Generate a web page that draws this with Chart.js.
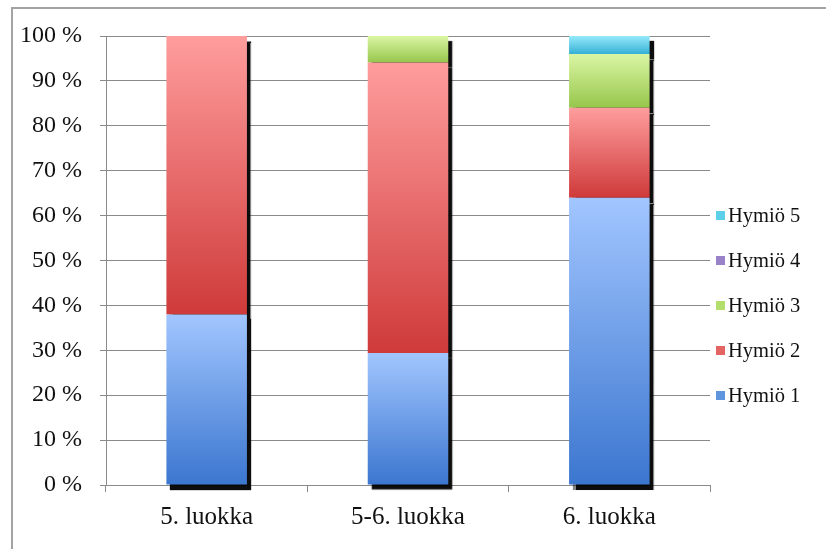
<!DOCTYPE html>
<html>
<head>
<meta charset="utf-8">
<script src="https://cdn.jsdelivr.net/npm/chart.js@4/dist/chart.umd.min.js"></script>
<style>
  html, body { margin: 0; padding: 0; background: #fff; }
  #wrap { position: relative; width: 826px; height: 549px; overflow: hidden; }
  #frame { position: absolute; left: 11px; top: 7px; width: 900px; height: 700px;
           border-left: 2px solid #a3a3a3; border-top: 2px solid #a3a3a3; }
  canvas { position: absolute; left: 0; top: 0; }
  #legend { position: absolute; left: 716px; top: 193px; font: 20.5px "Liberation Serif", serif; color: #111; }
  #legend .item { height: 45px; display: flex; align-items: center; white-space: nowrap; }
  #legend .box { width: 9px; height: 9px; margin-right: 3px; }
</style>
</head>
<body>
<div id="wrap">
  <div id="frame"></div>
  <canvas id="chart" width="826" height="549"></canvas>
  <div id="legend"></div>
</div>
<script>
// luokat ja osuudet (%)
const categories = ['5. luokka', '5-6. luokka', '6. luokka'];
const seriesNames = ['Hymiö 1', 'Hymiö 2', 'Hymiö 3', 'Hymiö 4', 'Hymiö 5'];
const hymio1 = [38, 29.4, 64];
const hymio2 = [62, 64.7, 20];
const hymio3 = [0, 5.9, 12];
const hymio4 = [0, 0, 0];
const hymio5 = [0, 0, 4];
const yTicks = [0, 10, 20, 30, 40, 50, 60, 70, 80, 90, 100];

// gradient: vaalea ylhäällä, tumma alhaalla
const colors = [
  ['#a2c6ff', '#3b76cf'],
  ['#ff9d9d', '#cf3a3a'],
  ['#daf6a4', '#97c64c'],
  ['#bba8e4', '#7558ad'],
  ['#96eafa', '#35b0d6']
];
const legendColors = ['#5e95dd', '#e46464', '#b3de6c', '#9a82c8', '#5ccfe9'];

function segmentFill(ctx, pair) {
  const chart = ctx.chart;
  if (!chart.chartArea || ctx.type !== 'data') return pair[1];
  const y = chart.scales.y;
  const i = ctx.dataIndex;
  let base = 0;
  for (let d = 0; d < ctx.datasetIndex; d++) base += chart.data.datasets[d].data[i];
  const top = base + chart.data.datasets[ctx.datasetIndex].data[i];
  const y0 = y.getPixelForValue(top);
  const y1 = y.getPixelForValue(base);
  if (y1 - y0 < 1) return pair[1];
  const g = chart.ctx.createLinearGradient(0, y0, 0, y1);
  g.addColorStop(0, pair[0]);
  g.addColorStop(1, pair[1]);
  return g;
}

// musta varjo pylväiden oikealle ja alle
const barShadow = {
  id: 'barShadow',
  beforeDatasetsDraw(chart) {
    const c = chart.ctx;
    c.save();
    c.shadowColor = 'rgba(0,0,0,0.95)';
    c.shadowBlur = 1;
    c.shadowOffsetX = 4;
    c.shadowOffsetY = 5;
  },
  afterDatasetsDraw(chart) {
    chart.ctx.restore();
  }
};

const values = [hymio1, hymio2, hymio3, hymio4, hymio5];
const datasets = values.map((data, k) => ({
  label: seriesNames[k],
  data: data,
  backgroundColor: (ctx) => segmentFill(ctx, colors[k]),
  borderWidth: 0,
  categoryPercentage: 1,
  barPercentage: 0.4,
  clip: false
}));

const gridColor = '#8a8a8a';
const font = { family: '"Liberation Serif", serif', size: 24 };

const chart = new Chart(document.getElementById('chart'), {
  type: 'bar',
  data: { labels: categories, datasets: datasets },
  options: {
    responsive: false,
    animation: false,
    events: [],
    layout: { padding: { left: 0, top: 36, right: 116, bottom: 7 } },
    plugins: {
      legend: { display: false },
      tooltip: { enabled: false }
    },
    scales: {
      x: {
        stacked: true,
        offset: true,
        grid: { drawOnChartArea: false, drawTicks: true, tickLength: 7, color: gridColor, offset: true },
        border: { color: gridColor },
        ticks: { color: '#111', font: { family: font.family, size: 25 }, padding: 10 }
      },
      y: {
        stacked: true,
        min: 0,
        max: 100,
        afterFit: (s) => { s.width = 106; },
        afterBuildTicks: (s) => { s.ticks = yTicks.map(v => ({ value: v })); },
        grid: { color: gridColor, tickLength: 6 },
        border: { color: gridColor },
        ticks: { color: '#111', font: font, padding: 18, callback: (v) => v + ' %' }
      }
    }
  },
  plugins: [barShadow]
});

// selite oikealle, käänteisessä järjestyksessä
const legendEl = document.getElementById('legend');
for (let k = seriesNames.length - 1; k >= 0; k--) {
  const item = document.createElement('div');
  item.className = 'item';
  const box = document.createElement('span');
  box.className = 'box';
  box.style.background = legendColors[k];
  const txt = document.createElement('span');
  txt.textContent = seriesNames[k];
  item.appendChild(box);
  item.appendChild(txt);
  legendEl.appendChild(item);
}
</script>
</body>
</html>
